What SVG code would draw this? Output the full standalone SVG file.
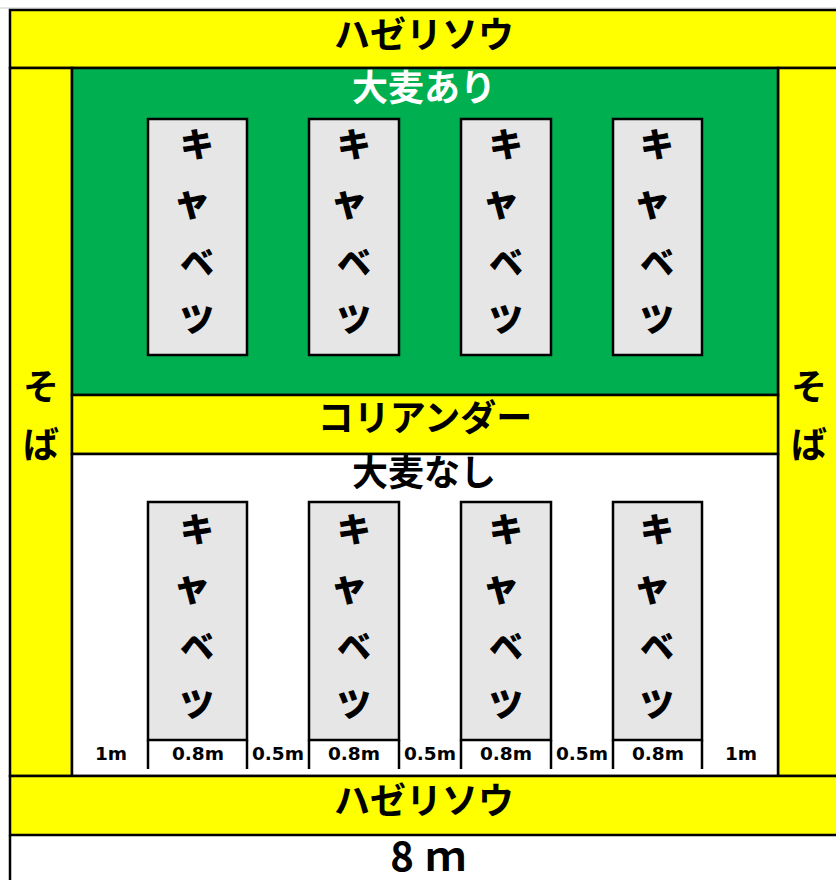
<svg xmlns="http://www.w3.org/2000/svg" width="836" height="880" viewBox="0 0 836 880">
<style>
.yl{fill:#ffff00;stroke:#000;stroke-width:2.5}
.gr{fill:#00b050;stroke:#000;stroke-width:2.5}
.wh{fill:#fff;stroke:#000;stroke-width:2.5}
.box{fill:#e6e6e6;stroke:#000;stroke-width:2.5}
.ln{stroke:#000;stroke-width:2.5;fill:none}
.jp{font-family:"Noto Sans CJK JP","Noto Sans",sans-serif;font-weight:bold;text-anchor:middle;fill:#000}
.big{font-size:36px}
.cab{font-size:34px;font-weight:900}
.ya{font-size:38px;font-weight:900}
.dim{font-family:"DejaVu Sans","Liberation Sans",sans-serif;font-weight:bold;font-size:18.5px;text-anchor:middle;fill:#000}
</style>
<rect width="836" height="880" fill="#fff"/>
<line x1="0" y1="8" x2="836" y2="8" stroke="#dcdcdc" stroke-width="1.5"/>
<g id="top-band"><rect class="yl" x="10" y="10" width="830" height="58"/><text class="jp big" x="424" y="48">ハゼリソウ</text></g>
<g id="left-soba"><rect class="yl" x="10" y="68" width="62" height="708"/><text class="jp big" x="41" y="400">そ</text><text class="jp big" x="41" y="458">ば</text></g>
<g id="right-soba"><rect class="yl" x="778" y="68" width="62" height="708"/><text class="jp big" x="809" y="400">そ</text><text class="jp big" x="809" y="458">ば</text></g>
<g id="barley-yes"><rect class="gr" x="72" y="68" width="706" height="327"/><text class="jp big" x="424" y="101" style="fill:#fff">大麦あり</text></g>
<g id="coriander"><rect class="yl" x="72" y="395" width="706" height="59"/><text class="jp big" x="425" y="431">コリアンダー</text></g>
<g id="barley-no"><rect class="wh" x="72" y="454" width="706" height="322"/><text class="jp big" x="424" y="486">大麦なし</text></g>
<g id="bottom-band"><rect class="yl" x="10" y="776" width="830" height="59"/><text class="jp big" x="424" y="814">ハゼリソウ</text></g>
<line class="ln" x1="10" y1="835" x2="10" y2="882"/>
<g id="cabbage-u1"><rect class="box" x="148" y="119" width="99" height="236"/><text class="jp cab" x="197" y="157">キ</text><text class="jp ya" x="192" y="215">ャ</text><text class="jp cab" x="197" y="275">ベ</text><text class="jp cab" x="197" y="332">ツ</text></g>
<g id="cabbage-u2"><rect class="box" x="309" y="119" width="90" height="236"/><text class="jp cab" x="354" y="157">キ</text><text class="jp ya" x="349" y="215">ャ</text><text class="jp cab" x="354" y="275">ベ</text><text class="jp cab" x="354" y="332">ツ</text></g>
<g id="cabbage-u3"><rect class="box" x="461" y="119" width="90" height="236"/><text class="jp cab" x="506" y="157">キ</text><text class="jp ya" x="501" y="215">ャ</text><text class="jp cab" x="506" y="275">ベ</text><text class="jp cab" x="506" y="332">ツ</text></g>
<g id="cabbage-u4"><rect class="box" x="613" y="119" width="89" height="236"/><text class="jp cab" x="657" y="157">キ</text><text class="jp ya" x="652" y="215">ャ</text><text class="jp cab" x="657" y="275">ベ</text><text class="jp cab" x="657" y="332">ツ</text></g>
<g id="cabbage-l1"><rect class="box" x="148" y="502" width="99" height="238"/><text class="jp cab" x="197" y="542">キ</text><text class="jp ya" x="192" y="600">ャ</text><text class="jp cab" x="197" y="659">ベ</text><text class="jp cab" x="197" y="717">ツ</text></g>
<g id="cabbage-l2"><rect class="box" x="309" y="502" width="90" height="238"/><text class="jp cab" x="354" y="542">キ</text><text class="jp ya" x="349" y="600">ャ</text><text class="jp cab" x="354" y="659">ベ</text><text class="jp cab" x="354" y="717">ツ</text></g>
<g id="cabbage-l3"><rect class="box" x="461" y="502" width="90" height="238"/><text class="jp cab" x="506" y="542">キ</text><text class="jp ya" x="501" y="600">ャ</text><text class="jp cab" x="506" y="659">ベ</text><text class="jp cab" x="506" y="717">ツ</text></g>
<g id="cabbage-l4"><rect class="box" x="613" y="502" width="89" height="238"/><text class="jp cab" x="657" y="542">キ</text><text class="jp ya" x="652" y="600">ャ</text><text class="jp cab" x="657" y="659">ベ</text><text class="jp cab" x="657" y="717">ツ</text></g>
<g id="connectors">
<line class="ln" x1="148" y1="740" x2="148" y2="769"/><line class="ln" x1="247" y1="740" x2="247" y2="769"/>
<line class="ln" x1="309" y1="740" x2="309" y2="769"/><line class="ln" x1="399" y1="740" x2="399" y2="769"/>
<line class="ln" x1="461" y1="740" x2="461" y2="769"/><line class="ln" x1="551" y1="740" x2="551" y2="769"/>
<line class="ln" x1="613" y1="740" x2="613" y2="769"/><line class="ln" x1="702" y1="740" x2="702" y2="769"/>
</g>
<g id="dimensions">
<text class="dim" x="111" y="760">1m</text>
<text class="dim" x="198" y="760">0.8m</text>
<text class="dim" x="278" y="760">0.5m</text>
<text class="dim" x="354" y="760">0.8m</text>
<text class="dim" x="430" y="760">0.5m</text>
<text class="dim" x="506" y="760">0.8m</text>
<text class="dim" x="582" y="760">0.5m</text>
<text class="dim" x="658" y="760">0.8m</text>
<text class="dim" x="741" y="760">1m</text>
<text class="jp" x="434" y="871" style="font-size:40px;letter-spacing:12px">8ｍ</text>
</g>
</svg>
